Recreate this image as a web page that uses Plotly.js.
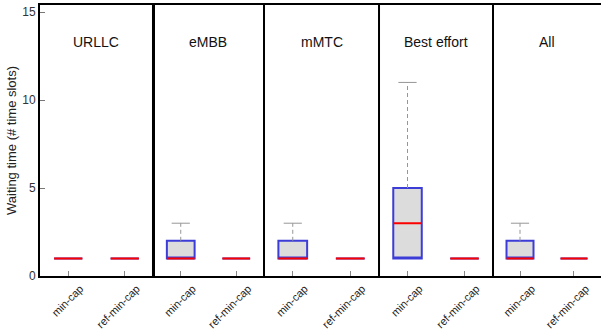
<!DOCTYPE html>
<html>
<head>
<meta charset="utf-8">
<script src="https://cdn.plot.ly/plotly-3.0.1.min.js"></script>
<style>html,body{margin:0;padding:0;background:#fff}#chart{width:602px;height:333px}</style>
</head>
<body>
<div id="chart"></div>
<script>
const groups = ['URLLC', 'eMBB', 'mMTC', 'Best effort', 'All'];
const categories = ['min-cap', 'ref-min-cap'];
// per group: [min-cap, ref-min-cap]
const lowerWhisker = [[1, 1], [1, 1], [1, 1], [1, 1], [1, 1]];
const q1Values     = [[1, 1], [1, 1], [1, 1], [1, 1], [1, 1]];
const medianValues = [[1, 1], [1, 1], [1, 1], [3, 1], [1, 1]];
const q3Values     = [[1, 1], [2, 1], [2, 1], [5, 1], [2, 1]];
const upperWhisker = [[1, 1], [3, 1], [3, 1], [11, 1], [3, 1]];
const yTicks = [0, 5, 10, 15];

const domains = [[0, 0.2014], [0.2014, 0.3993], [0.3993, 0.6043], [0.6043, 0.8075], [0.8075, 1]];
const blue = 'rgb(60,60,215)';
const red = 'rgb(250,0,0)';
const grey = 'rgb(150,150,150)';

const traces = [];
const layout = {
  width: 602, height: 333,
  margin: {l: 40, r: 1, t: 5, b: 57},
  paper_bgcolor: '#fff', plot_bgcolor: '#fff',
  showlegend: false,
  boxmode: 'overlay',
  font: {family: 'Liberation Sans, Arial, sans-serif', color: '#222'},
  yaxis: {
    range: [0, 15.4], tickvals: yTicks, ticktext: yTicks.map(String),
    ticks: 'inside', ticklen: 5, tickcolor: '#777', tickwidth: 1,
    showgrid: false, zeroline: false, showline: true, mirror: true,
    linecolor: '#000', linewidth: 2, tickfont: {size: 12, color: '#333'},
    title: {text: 'Waiting time (# time slots)', font: {size: 13, color: '#222'}, standoff: 3}
  },
  shapes: [], annotations: []
};

groups.forEach((g, gi) => {
  const xa = gi === 0 ? 'x' : 'x' + (gi + 1);
  const axName = gi === 0 ? 'xaxis' : 'xaxis' + (gi + 1);
  layout[axName] = {
    domain: domains[gi], anchor: 'y', type: 'category',
    categoryorder: 'array', categoryarray: categories,
    range: [-0.5, 1.5],
    ticks: 'inside', ticklen: 5, tickcolor: '#888', tickwidth: 1,
    tickangle: -45, tickfont: {size: 11, color: '#222'}, ticklabelshift: 12,
    showgrid: false, zeroline: false, showline: true, mirror: true,
    linecolor: '#000', linewidth: 2
  };
  // whiskers (dashed grey) and caps
  const wx = [], wy = [], cx = [], cy = [];
  categories.forEach((c, ci) => {
    if (upperWhisker[gi][ci] > q3Values[gi][ci]) {
      wx.push(c, c, null); wy.push(q3Values[gi][ci], upperWhisker[gi][ci], null);
      cx.push(c); cy.push(upperWhisker[gi][ci]);
    }
    if (lowerWhisker[gi][ci] < q1Values[gi][ci]) {
      wx.push(c, c, null); wy.push(q1Values[gi][ci], lowerWhisker[gi][ci], null);
      cx.push(c); cy.push(lowerWhisker[gi][ci]);
    }
  });
  if (wx.length) {
    traces.push({type: 'scatter', mode: 'lines', x: wx, y: wy, xaxis: xa, yaxis: 'y',
      line: {color: grey, width: 1, dash: '4px,3px'}, hoverinfo: 'skip'});
    traces.push({type: 'scatter', mode: 'markers', x: cx, y: cy, xaxis: xa, yaxis: 'y',
      marker: {symbol: 'line-ew', size: 13, line: {color: grey, width: 1}}, hoverinfo: 'skip'});
  }
  // box body
  traces.push({
    type: 'box', x: categories, xaxis: xa, yaxis: 'y', width: 0.5,
    q1: q1Values[gi], median: q1Values[gi], q3: q3Values[gi],
    lowerfence: q1Values[gi], upperfence: q3Values[gi],
    fillcolor: 'rgb(220,220,220)', line: {color: blue, width: 2}, whiskerwidth: 0,
    boxpoints: false, hoverinfo: 'skip'
  });
  // median line in red
  traces.push({
    type: 'box', x: categories, xaxis: xa, yaxis: 'y', width: 0.5,
    q1: medianValues[gi], median: medianValues[gi], q3: medianValues[gi],
    lowerfence: medianValues[gi], upperfence: medianValues[gi],
    fillcolor: 'rgba(0,0,0,0)', line: {color: red, width: 2}, whiskerwidth: 0,
    boxpoints: false, hoverinfo: 'skip'
  });
  layout.annotations.push({
    text: g, xref: 'paper', yref: 'y',
    x: (domains[gi][0] + domains[gi][1]) / 2, y: 13.3,
    showarrow: false, font: {size: 14, color: '#111'}, xanchor: 'center', yanchor: 'middle'
  });
  if (gi > 0) {
    layout.shapes.push({type: 'line', xref: 'paper', yref: 'paper',
      x0: domains[gi][0], x1: domains[gi][0], y0: 0, y1: 1,
      line: {color: '#000', width: 2}});
  }
});

Plotly.newPlot('chart', traces, layout, {displayModeBar: false, staticPlot: true});
</script>
</body>
</html>
